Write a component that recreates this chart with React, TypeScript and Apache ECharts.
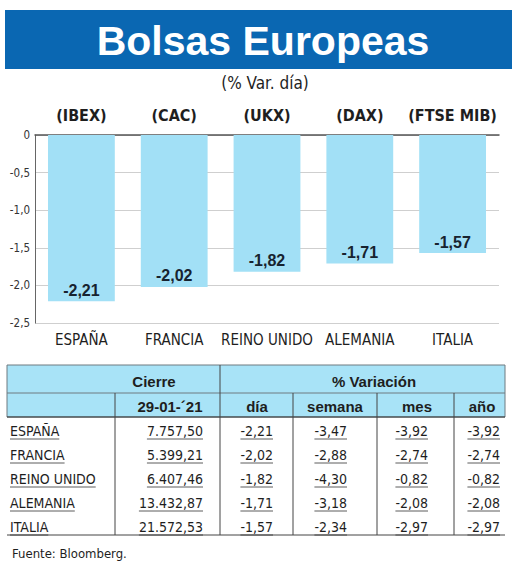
import React, { useEffect, useRef } from 'react';
import * as echarts from 'echarts';

const countries = ['ESPAÑA', 'FRANCIA', 'REINO UNIDO', 'ALEMANIA', 'ITALIA'];
const indices = ['(IBEX)', '(CAC)', '(UKX)', '(DAX)', '(FTSE MIB)'];
const dayChange = [-2.21, -2.02, -1.82, -1.71, -1.57];
const closeValues = [7757.5, 5399.21, 6407.46, 13432.87, 21572.53];
const weekChange = [-3.47, -2.88, -4.3, -3.18, -2.34];
const monthChange = [-3.92, -2.74, -0.82, -2.08, -2.97];
const yearChange = [-3.92, -2.74, -0.82, -2.08, -2.97];
const headerTop = ['Cierre', '% Variación'];
const headerSub = ['29-01-´21', 'día', 'semana', 'mes', 'año'];
const title = 'Bolsas Europeas';
const subtitle = '(% Var. día)';
const source = 'Fuente: Bloomberg.';

const NARROW = '"DejaVu Sans Condensed", "Liberation Sans", sans-serif';
const SANS = '"Liberation Sans", Arial, sans-serif';
const BLUE = '#0a67b2';
const BAR = '#a2e0f6';
const HEAD_BG = '#a8e3f7';
const TEXT = '#1e1e1e';

function fmt(v: number): string {
  const s = Math.abs(v).toFixed(2);
  const [i, d] = s.split('.');
  const ii = i.replace(/\B(?=(\d{3})+(?!\d))/g, '.');
  return (v < 0 ? '-' : '') + ii + ',' + d;
}

let ctx: CanvasRenderingContext2D | null = null;
function measure(text: string, size: number, family: string, weight = 'normal'): number {
  if (!ctx) ctx = document.createElement('canvas').getContext('2d');
  if (!ctx) return text.length * size * 0.5;
  ctx.font = `${weight} ${size}px ${family}`;
  return ctx.measureText(text).width;
}

function buildGraphics(): any[] {
  const g: any[] = [];
  // title banner
  g.push({ type: 'rect', shape: { x: 5, y: 10, width: 507, height: 59 }, style: { fill: BLUE } });
  g.push({
    type: 'text', x: 263, y: 41,
    style: { text: title, fill: '#fff', fontFamily: SANS, fontWeight: 'bold', fontSize: 41, align: 'center', verticalAlign: 'middle' },
  });
  g.push({
    type: 'text', x: 265, y: 83,
    style: { text: subtitle, fill: TEXT, fontFamily: NARROW, fontSize: 17, align: 'center', verticalAlign: 'middle' },
  });

  // table header
  const L = 7, R = 505, T = 365, M = 393, H = 417, B = 535;
  g.push({ type: 'rect', shape: { x: L, y: T, width: R - L, height: H - T }, style: { fill: HEAD_BG, stroke: '#6f7a80', lineWidth: 1 } });
  g.push({ type: 'line', shape: { x1: L, y1: M, x2: R, y2: M }, style: { stroke: '#6f7a80', lineWidth: 1 } });
  g.push({ type: 'line', shape: { x1: L, y1: H, x2: R, y2: H }, style: { stroke: '#333', lineWidth: 1.2 } });
  g.push({ type: 'line', shape: { x1: 220, y1: T, x2: 220, y2: B }, style: { stroke: '#444', lineWidth: 1 } });
  [115, 293, 377, 454].forEach((x) => {
    g.push({ type: 'line', shape: { x1: x, y1: M, x2: x, y2: B }, style: { stroke: '#444', lineWidth: 1 } });
  });
  g.push({ type: 'line', shape: { x1: L, y1: B, x2: R, y2: B }, style: { stroke: '#444', lineWidth: 1 } });

  const topCenters = [154, 374];
  headerTop.forEach((t, i) => {
    g.push({ type: 'text', x: topCenters[i], y: 381, style: { text: t, fill: TEXT, fontFamily: SANS, fontWeight: 'bold', fontSize: 15, align: 'center', verticalAlign: 'middle' } });
  });
  const subCenters = [170, 257, 335, 417, 482];
  headerSub.forEach((t, i) => {
    g.push({ type: 'text', x: subCenters[i], y: 406, style: { text: t, fill: TEXT, fontFamily: SANS, fontWeight: 'bold', fontSize: 15, align: 'center', verticalAlign: 'middle' } });
  });

  // rows
  const cols = [closeValues, dayChange, weekChange, monthChange, yearChange];
  const rights = [203, 273, 347, 428, 500];
  const fs = 14;
  const addCell = (text: string, x: number, y: number, align: 'left' | 'right') => {
    g.push({ type: 'text', x, y, style: { text, fill: TEXT, fontFamily: NARROW, fontSize: fs, align, verticalAlign: 'middle' } });
    const w = measure(text, fs, NARROW);
    const x1 = align === 'left' ? x : x - w;
    g.push({ type: 'line', shape: { x1, y1: y + 8, x2: x1 + w, y2: y + 8 }, style: { stroke: '#333', lineWidth: 0.8 } });
  };
  countries.forEach((c, r) => {
    const y = 431 + r * 24;
    addCell(c, 10, y, 'left');
    cols.forEach((col, ci) => addCell(fmt(col[r]), rights[ci], y, 'right'));
  });

  g.push({ type: 'text', x: 12, y: 553, style: { text: source, fill: TEXT, fontFamily: NARROW, fontSize: 13, align: 'left', verticalAlign: 'middle' } });
  return g;
}

export default function App() {
  const ref = useRef<HTMLDivElement>(null);
  useEffect(() => {
    if (!ref.current) return;
    const chart = echarts.init(ref.current, null, { renderer: 'svg' });
    chart.setOption({
      animation: false,
      backgroundColor: '#fff',
      grid: { left: 35, right: 21, top: 135, bottom: 242 },
      xAxis: [
        {
          type: 'category', data: countries, position: 'bottom',
          axisLine: { show: false, onZero: false }, axisTick: { show: false },
          axisLabel: { interval: 0, color: TEXT, fontFamily: NARROW, fontSize: 15, margin: 9 },
        },
        {
          type: 'category', data: indices, position: 'top',
          axisLine: { show: true, onZero: false, lineStyle: { color: '#555', width: 1.5 } }, axisTick: { show: false },
          axisLabel: { interval: 0, color: TEXT, fontFamily: NARROW, fontWeight: 'bold', fontSize: 16, margin: 12 },
        },
      ],
      yAxis: {
        type: 'value', min: -2.5, max: 0, interval: 0.5,
        axisLine: { show: true, lineStyle: { color: '#666', width: 1 } },
        axisTick: { show: false },
        splitLine: { show: true, lineStyle: { color: '#cfcfcf', width: 1 } },
        axisLabel: {
          color: '#333', fontFamily: NARROW, fontSize: 11.5, margin: 5,
          formatter: (v: number) => (v === 0 ? '0' : v.toFixed(1).replace('.', ',')),
        },
      },
      series: [
        {
          type: 'bar', data: dayChange, xAxisIndex: 0, barWidth: '72%',
          itemStyle: { color: BAR },
          label: {
            show: true, position: 'insideBottom', distance: 3,
            formatter: (p: any) => fmt(p.value),
            color: '#17232f', fontFamily: SANS, fontWeight: 'bold', fontSize: 16,
          },
        },
      ],
      graphic: buildGraphics(),
    });
    return () => chart.dispose();
  }, []);
  return <div ref={ref} style={{ position: 'absolute', left: 0, top: 0, width: 520, height: 565, background: '#fff' }} />;
}
